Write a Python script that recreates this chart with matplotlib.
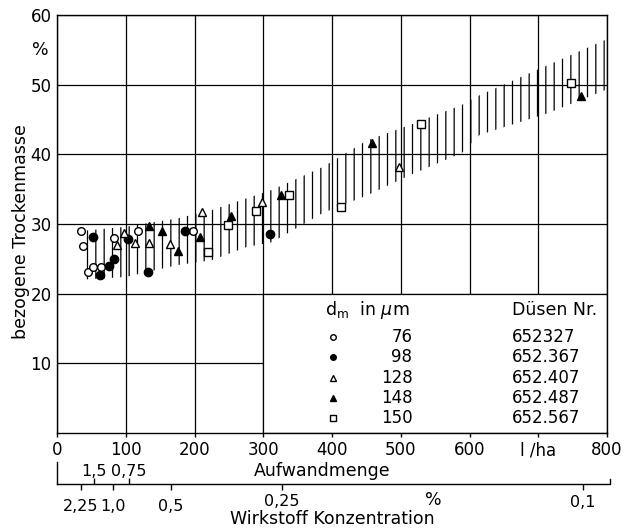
import matplotlib
matplotlib.use('Agg')
import matplotlib.pyplot as plt
from matplotlib import font_manager
from matplotlib.patches import Rectangle

# Messpunkte (Aufwandmenge l/ha, bezogene Trockenmasse %)
kreis_offen_x = [35, 38, 45, 53, 64, 83, 118, 198]
kreis_offen_y = [29.0, 26.9, 23.1, 23.8, 23.8, 28.0, 29.0, 29.0]

kreis_voll_x = [53, 63, 75, 83, 103, 132, 186, 310]
kreis_voll_y = [28.1, 22.7, 24.0, 25.0, 27.8, 23.1, 29.0, 28.6]

dreieck_offen_x = [87, 98, 113, 134, 164, 211, 298, 497]
dreieck_offen_y = [27.0, 28.7, 27.3, 27.3, 27.1, 31.7, 33.2, 38.2]

dreieck_voll_x = [134, 153, 176, 208, 253, 326, 458, 762]
dreieck_voll_y = [29.7, 29.0, 26.1, 28.1, 31.1, 34.2, 41.6, 48.4]

quadrat_x = [220, 249, 289, 338, 413, 529, 748]
quadrat_y = [26.0, 29.9, 31.9, 34.2, 32.5, 44.3, 50.2]

# Streubereich (schraffiertes Band)
band_x = [35, 100, 175, 225, 276, 313, 387, 451, 513, 589, 615, 714, 797]
band_oben = [29.0, 29.6, 30.8, 32.0, 33.7, 34.9, 38.2, 42.0, 44.2, 47.1, 48.5, 52.8, 56.4]
band_unten = [22.0, 22.4, 24.1, 24.8, 26.7, 27.4, 31.6, 34.1, 37.0, 40.2, 42.8, 45.9, 49.2]

# Legende
tropfen_dm = ['76', '98', '128', '148', '150']
duesen_nr = ['652327', '652.367', '652.407', '652.487', '652.567']

# Achsen
x_ticks = [0, 100, 200, 300, 400, 500, 600, 700, 800]
x_labels = ['0', '100', '200', '300', '400', '500', '600', 'l /ha', '800']
y_ticks = [10, 20, 30, 40, 50, 60]

# Wirkstoff-Konzentration (Lage in l/ha)
konz_unten_pos = [35, 81, 166, 327, 765]
konz_unten_txt = ['2,25', '1,0', '0,5', '0,25', '0,1']
konz_unten_hoehe = [506, 506, 506, 501, 502]
konz_oben_pos = [54, 105]
konz_oben_txt = ['1,5', '0,75']

namen = {f.name for f in font_manager.fontManager.ttflist}
if 'Liberation Sans Narrow' in namen:
    ZIFFER = dict(family=['Liberation Sans Narrow', 'DejaVu Sans'], fontsize=14)
    ZIFFER_KLEIN = dict(family=['Liberation Sans Narrow', 'DejaVu Sans'], fontsize=13)
else:
    ZIFFER = dict(family=['DejaVu Sans'], fontsize=12)
    ZIFFER_KLEIN = dict(family=['DejaVu Sans'], fontsize=11.5)
WORT = dict(family=['DejaVu Sans'], fontsize=12.5)

plt.rcParams['hatch.linewidth'] = 0.9

fig = plt.figure(figsize=(6.37, 5.28), dpi=100)
ax = fig.add_axes([0.0895, 0.1799, 0.8634, 0.7917])

ax.set_xlim(0, 800)
ax.set_ylim(0, 60)
ax.set_axisbelow(True)
ax.grid(True, color='black', linewidth=0.9)
for s in ax.spines.values():
    s.set_linewidth(1.0)

ax.set_xticks(x_ticks)
ax.set_xticklabels(x_labels, **ZIFFER)
ax.set_yticks(y_ticks)
ax.set_yticklabels([str(v) for v in y_ticks], **ZIFFER)
ax.tick_params(axis='x', direction='out', length=3, width=1.0, pad=3)
ax.tick_params(axis='y', length=0, pad=4)

# Band
ax.fill_between(band_x, band_unten, band_oben, facecolor='none', edgecolor='black',
                linewidth=0, hatch='||', zorder=2)

# Legendenfeld
ax.add_patch(Rectangle((300, 0), 500, 20, facecolor='white', edgecolor='black',
                       linewidth=0.9, zorder=1))

stil = dict(linestyle='none', markeredgecolor='black', markeredgewidth=1.0, zorder=4)
ax.plot(kreis_offen_x, kreis_offen_y, marker='o', markersize=5.5, markerfacecolor='white', **stil)
ax.plot(kreis_voll_x, kreis_voll_y, marker='o', markersize=6, markerfacecolor='black', **stil)
ax.plot(dreieck_offen_x, dreieck_offen_y, marker='^', markersize=5.5, markerfacecolor='white', **stil)
ax.plot(dreieck_voll_x, dreieck_voll_y, marker='^', markersize=5.5, markerfacecolor='black', **stil)
ax.plot(quadrat_x, quadrat_y, marker='s', markersize=5.5, markerfacecolor='white', **stil)

# Legende
zeilen_y = [13.8, 10.9, 7.9, 5.0, 2.2]
leg_marker = [('o', 'white'), ('o', 'black'), ('^', 'white'), ('^', 'black'), ('s', 'white')]
ax.text(390, 17.6, r'd$_{\mathregular{m}}$  in $\mu$m', ha='left', va='center', zorder=5, **WORT)
ax.text(662, 17.6, 'Düsen Nr.', ha='left', va='center', zorder=5, **WORT)
for yy, (m, fc), dm, nr in zip(zeilen_y, leg_marker, tropfen_dm, duesen_nr):
    ax.plot([401], [yy], marker=m, markersize=4, markerfacecolor=fc,
            linestyle='none', markeredgecolor='black', markeredgewidth=1.0, zorder=5)
    ax.text(517, yy, dm, ha='right', va='center', zorder=5, **ZIFFER)
    ax.text(662, yy, nr, ha='left', va='center', zorder=5, **ZIFFER)

# y-Beschriftung
ax.text(-25, 55, '%', ha='center', va='center', clip_on=False, **WORT)
ax.text(-52, 28.9, 'bezogene Trockenmasse', rotation=90, ha='center', va='center',
        clip_on=False, **WORT)

# zweite Skala (Wirkstoff Konzentration), y in Bildzeilen
ax2 = fig.add_axes([0.0895, 0.0, 0.8634, 0.1799])
ax2.set_xlim(0, 800)
ax2.set_ylim(528, 433)
ax2.axis('off')
ax2.plot([0, 0], [462, 484], color='black', linewidth=1.0, clip_on=False)
ax2.plot([0, 804, 804], [484, 484, 479], color='black', linewidth=1.0, clip_on=False)
ax2.vlines(konz_unten_pos, 484, 490, color='black', linewidth=1.0)
ax2.vlines(konz_oben_pos, 478, 484, color='black', linewidth=1.0)
for p, t, h in zip(konz_unten_pos, konz_unten_txt, konz_unten_hoehe):
    ax2.text(p, h, t, ha='center', va='center', **ZIFFER_KLEIN)
for p, t in zip(konz_oben_pos, konz_oben_txt):
    ax2.text(p, 471, t, ha='center', va='center', **ZIFFER_KLEIN)
ax2.text(385, 471, 'Aufwandmenge', ha='center', va='center', **WORT)
ax2.text(547, 500, '%', ha='center', va='center', **WORT)
ax2.text(400, 519, 'Wirkstoff Konzentration', ha='center', va='center', **WORT)

fig.savefig('out.png', dpi=100)
